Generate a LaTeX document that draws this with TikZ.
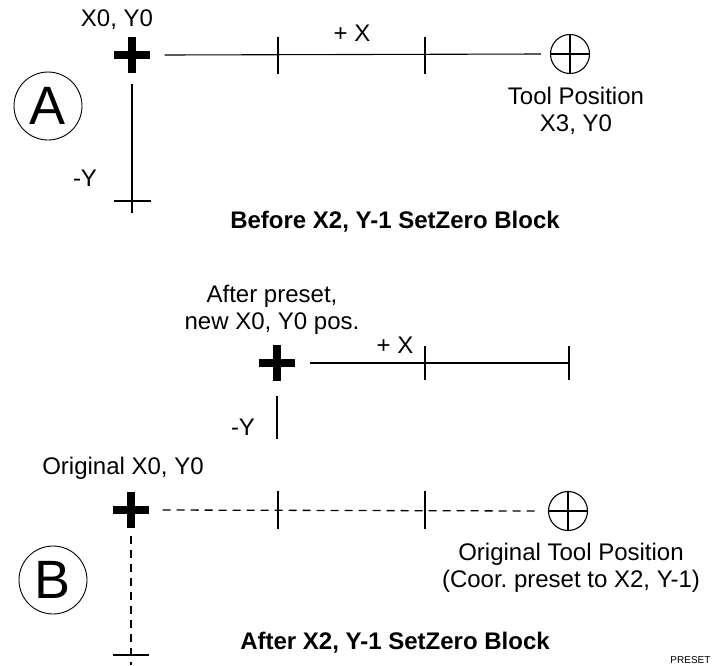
\documentclass[tikz,border=0pt]{standalone}
\usepackage{fontspec}
\setmainfont{Liberation Sans}
\frenchspacing
\begin{document}
\begin{tikzpicture}[x=1pt, y=-1pt, line width=1.1pt,
  txt/.style={font=\fontsize{24}{27}\selectfont, align=center, inner sep=0pt},
  headline/.style={font=\fontsize{24}{27}\selectfont\bfseries, inner sep=0pt},
  panel/.style={circle, draw, line width=0.9pt, minimum size=68pt, inner sep=0pt, font=\fontsize{54}{54}\selectfont},
  origin/.style={minimum size=36pt, inner sep=0pt, path picture={
    \fill ([xshift=-4pt]path picture bounding box.north) rectangle ([xshift=4pt]path picture bounding box.south);
    \fill ([yshift=4pt]path picture bounding box.west) rectangle ([yshift=-4pt]path picture bounding box.east);}},
  tool/.style={circle, draw, minimum size=39pt, inner sep=0pt, path picture={
    \draw (path picture bounding box.north) -- (path picture bounding box.south)
          (path picture bounding box.west) -- (path picture bounding box.east);}},
  preset/.style={line width=1.3pt, dash pattern=on 8pt off 6pt}]
\useasboundingbox (0,0) rectangle (712,665);
% A: before the block
\node[panel] (pA) at (48,106) {A};
\node[origin] (oA) at (132,55) {};
\node[txt] (oAtext) at (117,20) {X0, Y0};
\node[tool] (tA) at (570,54) {};
\coordinate (xA1) at (278,55);
\coordinate (xA2) at (425,55);
\coordinate (yA) at (132,213);
\coordinate (yA1) at (132,201);
\draw ([xshift=14pt]oA.east) -- ([xshift=-9pt]tA.west);
\draw ([yshift=18.5pt]xA1) -- ([yshift=-18.5pt]xA1);
\draw ([yshift=18.5pt]xA2) -- ([yshift=-18.5pt]xA2);
\draw ([yshift=-10pt]oA.south) -- (yA);
\draw ([xshift=-18.5pt]yA1) -- ([xshift=18.5pt]yA1);
\node[txt] (xAtext) at (352,33) {+ X};
\node[txt] (yAtext) at (85,178) {-Y};
\node[txt] (tAtext) at (576,111) {Tool Position\\X3, Y0};
\node[headline] (hA) at (395,222) {Before X2, Y-1 SetZero Block};
% new zero after preset
\node[origin] (oN) at (277,363) {};
\node[txt] (oNtext) at (272,310) {After preset,\\new X0, Y0 pos.};
\coordinate (xN1) at (425,363);
\coordinate (xN2) at (569,363);
\coordinate (yN) at (277,439);
\draw ([xshift=14pt]oN.east) -- (xN2);
\draw ([yshift=17pt]xN1) -- ([yshift=-17pt]xN1);
\draw ([yshift=17pt]xN2) -- ([yshift=-17pt]xN2);
\draw ([yshift=-14pt]oN.south) -- (yN);
\node[txt] (xNtext) at (395,345) {+ X};
\node[txt] (yNtext) at (243,427) {-Y};
% B: after the block
\node[panel] (pB) at (53,580) {B};
\node[origin] (oB) at (131,510) {};
\node[txt] (oBtext) at (123,468) {Original X0, Y0};
\node[tool] (tB) at (568,511) {};
\coordinate (xB1) at (278,510);
\coordinate (xB2) at (425,510);
\coordinate (yB) at (131,665);
\coordinate (yB1) at (131,655);
\draw[preset] ([xshift=13pt]oB.east) -- ([xshift=-8pt]tB.west);
\draw ([yshift=19pt]xB1) -- ([yshift=-19pt]xB1);
\draw ([yshift=19pt]xB2) -- ([yshift=-19pt]xB2);
\draw[preset] ([yshift=-7pt]oB.south) -- (yB);
\draw ([xshift=-18pt]yB1) -- ([xshift=18pt]yB1);
\node[txt] (tBtext) at (571,568) {Original Tool Position\\(Coor. preset to X2, Y-1)};
\node[headline] (hB) at (395,643) {After X2, Y-1 SetZero Block};
\node[font=\fontsize{10}{12}\selectfont, inner sep=0pt, anchor=east] (tag) at (711,660) {PRESET};
\end{tikzpicture}
\end{document}
